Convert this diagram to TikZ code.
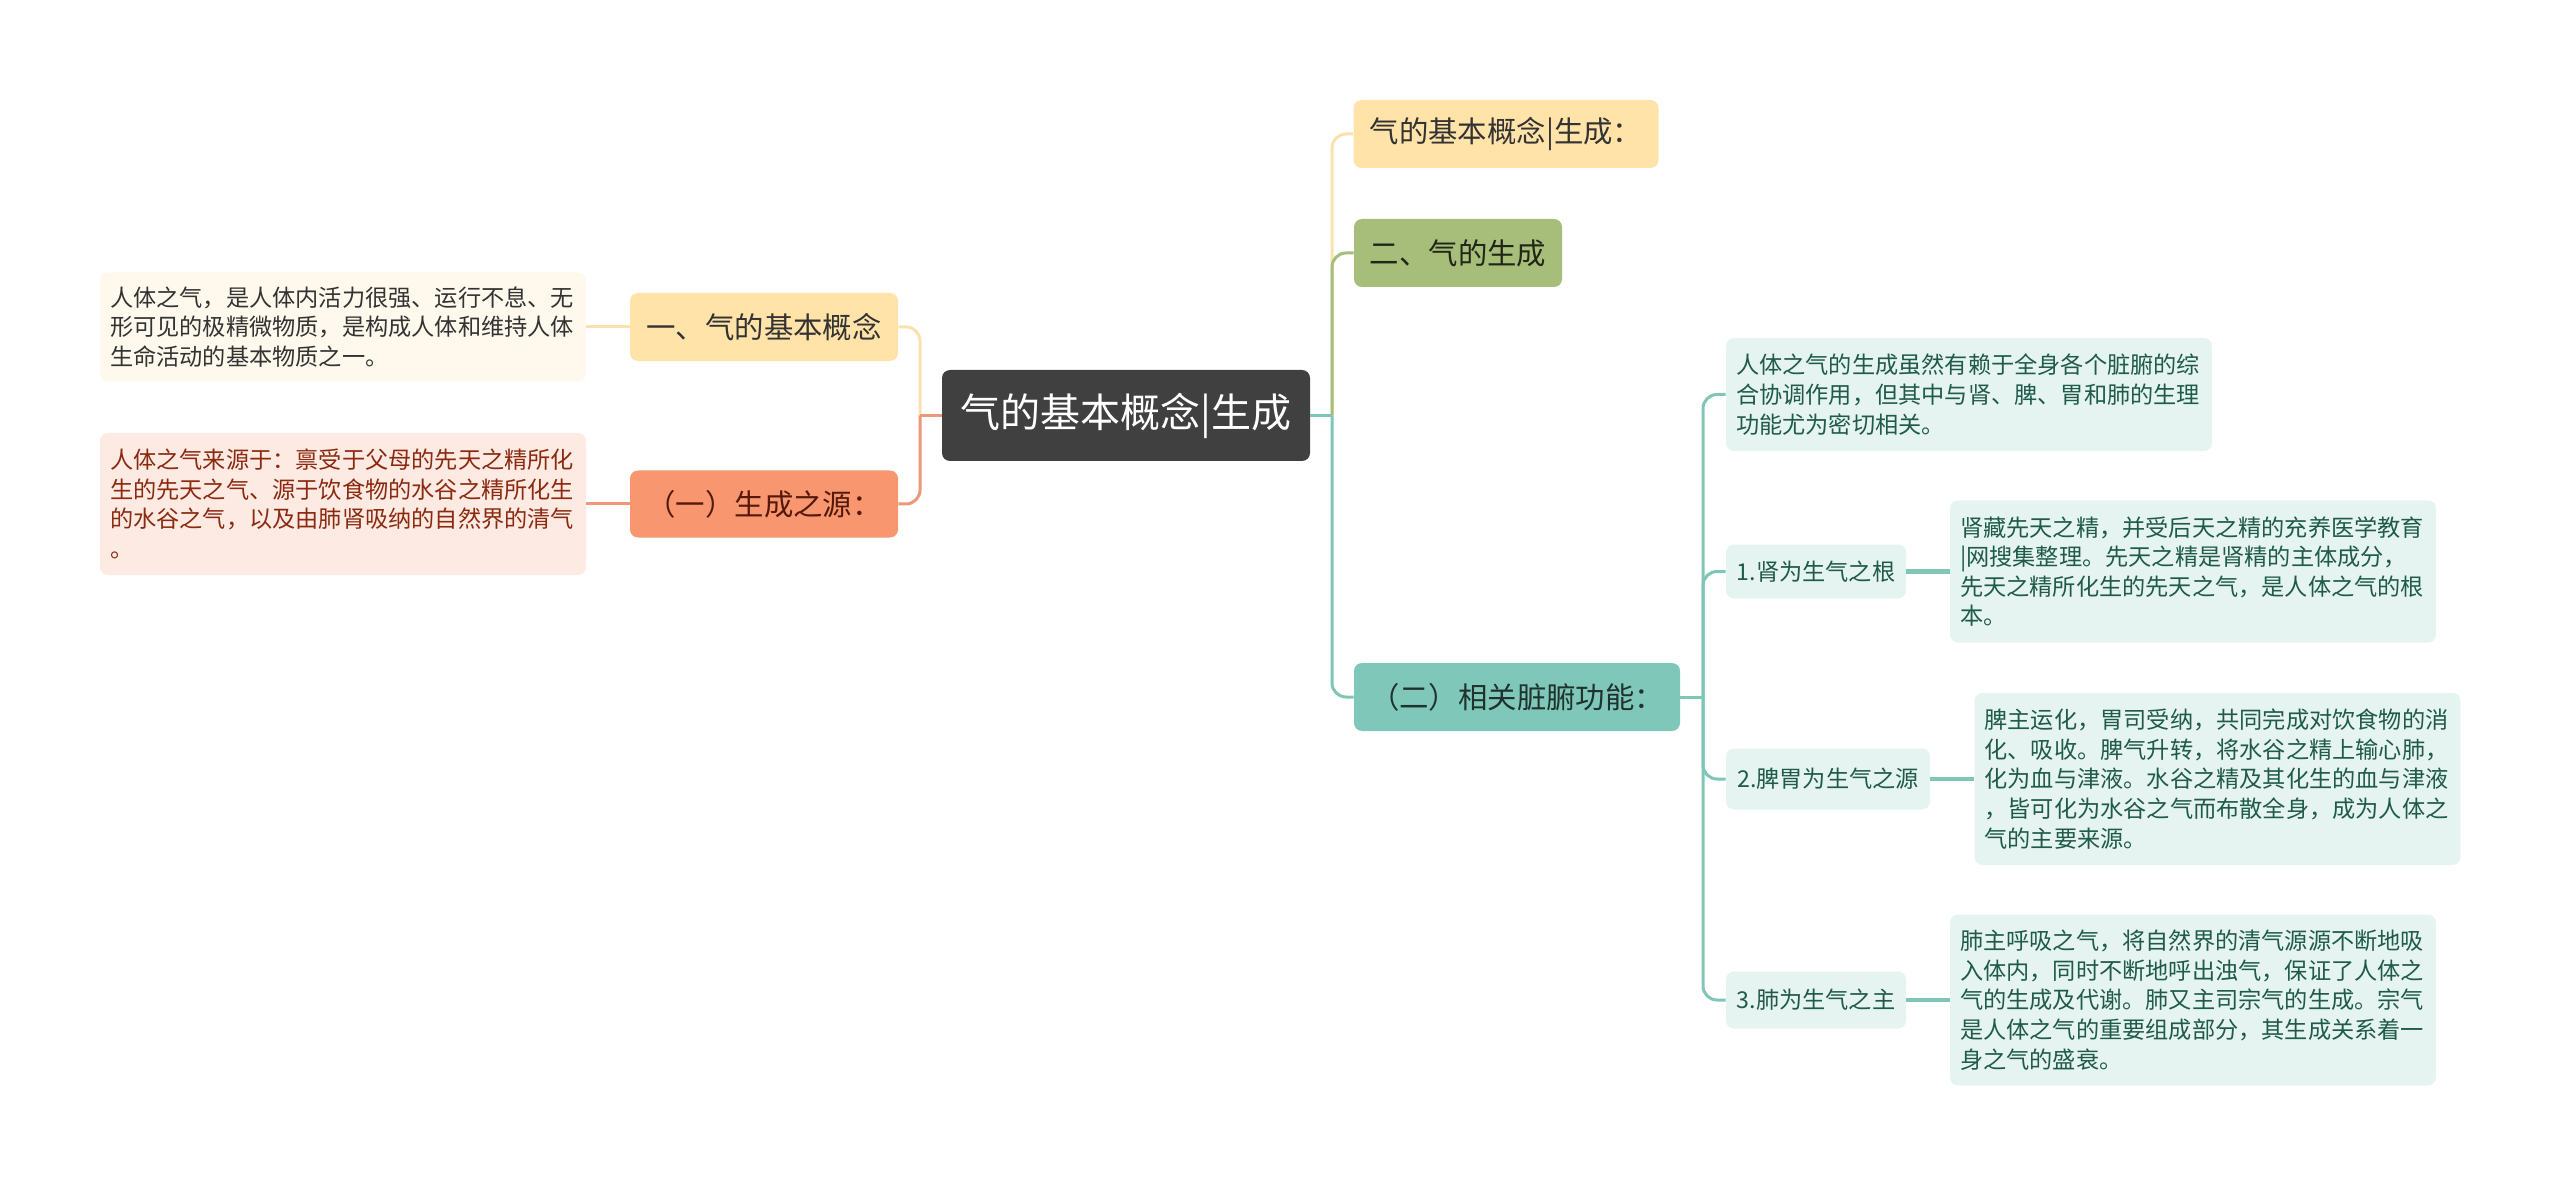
\documentclass[tikz,border=0pt]{standalone}
\usepackage{fontspec}
\setmainfont{Noto Sans CJK SC}
\definecolor{hubfill}{HTML}{404040}
\definecolor{sandfill}{HTML}{FFE3A9}
\definecolor{sandline}{HTML}{F9E2AE}
\definecolor{sandnote}{HTML}{FEF9EC}
\definecolor{coralfill}{HTML}{F8966F}
\definecolor{coralline}{HTML}{EF9779}
\definecolor{coralnote}{HTML}{FDEAE3}
\definecolor{coraltext}{HTML}{8C2A10}
\definecolor{olivefill}{HTML}{A6BE7A}
\definecolor{tealfill}{HTML}{7FC8B9}
\definecolor{tealline}{HTML}{80C6B7}
\definecolor{tealnote}{HTML}{E5F4F0}
\definecolor{tealtext}{HTML}{1F5A4A}
\begin{document}
\begin{tikzpicture}[x=0.5pt,y=-0.5pt,
    hub/.style={fill=hubfill,text=white,rounded corners=4pt,inner sep=0pt,
      minimum width=184pt,minimum height=45.5pt,font=\fontsize{20}{22}\selectfont},
    topic/.style={rounded corners=4pt,inner sep=0pt,minimum height=34pt,
      font=\fontsize{14.7}{17}\selectfont},
    sub/.style={fill=tealnote,text=tealtext,rounded corners=4pt,inner sep=0pt,
      font=\fontsize{11.6}{14}\selectfont},
    note/.style={rounded corners=4pt,align=left,text width=233pt,inner xsep=5pt,
      inner ysep=0pt,font=\fontsize{11.6}{14.8}\selectfont},
    link/.style={line width=1.5pt},
    elbow/.style={line width=1.5pt,rounded corners=7pt},
    leaflink/.style={line width=2.3pt,tealline}]
  \useasboundingbox (0,0) rectangle (2560,1187);

  \node[hub] (root) at (1126,415.5) {气的基本概念|生成};

  \node[topic,fill=sandfill,text=black!80,minimum width=134pt] (basic) at (764,327) {一、气的基本概念};
  \node[topic,fill=coralfill,text=coraltext!60!black,minimum width=134pt,minimum height=33.5pt] (source) at (764,504) {（一）生成之源：};
  \node[note,fill=sandnote,text=black!80,minimum height=54.5pt] (basicnote) at (343,327)
    {人体之气，是人体内活力很强、运行不息、无\\形可见的极精微物质，是构成人体和维持人体\\生命活动的基本物质之一。};
  \node[note,fill=coralnote,text=coraltext,minimum height=71pt] (sourcenote) at (343,504)
    {人体之气来源于：禀受于父母的先天之精所化\\生的先天之气、源于饮食物的水谷之精所化生\\的水谷之气，以及由肺肾吸纳的自然界的清气\\。};

  \node[topic,fill=sandfill,text=black!80,minimum width=152.5pt] (title) at (1506,134) {气的基本概念|生成：};
  \node[topic,fill=olivefill,text=black!80!olivefill,minimum width=104pt] (birth) at (1458,253) {二、气的生成};
  \node[topic,fill=tealfill,text=black!75!tealfill,minimum width=163pt] (organs) at (1517,697) {（二）相关脏腑功能：};

  \node[note,fill=tealnote,text=tealtext,minimum height=56.5pt] (overview) at (1969,394.5)
    {人体之气的生成虽然有赖于全身各个脏腑的综\\合协调作用，但其中与肾、脾、胃和肺的生理\\功能尤为密切相关。};
  \node[sub,minimum width=90pt,minimum height=27pt] (kidney) at (1816,571.5) {1.肾为生气之根};
  \node[sub,minimum width=102pt,minimum height=30.5pt] (spleen) at (1828,779) {2.脾胃为生气之源};
  \node[sub,minimum width=90pt,minimum height=28.5pt] (lung) at (1816,1000) {3.肺为生气之主};
  \node[note,fill=tealnote,text=tealtext,minimum height=71pt] (kidneynote) at (2193,571.5)
    {肾藏先天之精，并受后天之精的充养医学教育\\|网搜集整理。先天之精是肾精的主体成分，\\先天之精所化生的先天之气，是人体之气的根\\本。};
  \node[note,fill=tealnote,text=tealtext,minimum height=86pt] (spleennote) at (2217.5,779)
    {脾主运化，胃司受纳，共同完成对饮食物的消\\化、吸收。脾气升转，将水谷之精上输心肺，\\化为血与津液。水谷之精及其化生的血与津液\\，皆可化为水谷之气而布散全身，成为人体之\\气的主要来源。};
  \node[note,fill=tealnote,text=tealtext,minimum height=85.5pt] (lungnote) at (2193,1000)
    {肺主呼吸之气，将自然界的清气源源不断地吸\\入体内，同时不断地呼出浊气，保证了人体之\\气的生成及代谢。肺又主司宗气的生成。宗气\\是人体之气的重要组成部分，其生成关系着一\\身之气的盛衰。};

  \coordinate (lt) at (920,415.5);
  \coordinate (rt) at (1332,415.5);
  \coordinate (st) at (1703,697);

  \begin{scope}[-]
    \draw[elbow,sandline] (lt) |- (basic.east);
    \draw[link,coralline] (root.west) -- (lt);
    \draw[elbow,coralline] (lt) |- (source.east);
    \draw[link,sandline] (basic.west) -- (basicnote.east);
    \draw[link,coralline] (source.west) -- (sourcenote.east);
    \draw[elbow,sandline] (rt) |- (title.west);
    \draw[elbow,olivefill] (rt) |- (birth.west);
    \draw[link,tealline] (root.east) -- (rt);
    \draw[elbow,tealline] (rt) |- (organs.west);
    \draw[link,tealline] (organs.east) -- (st);
    \draw[elbow,tealline] (st) |- (overview.west);
    \draw[elbow,tealline] (st) |- (kidney.west);
    \draw[elbow,tealline] (st) |- (spleen.west);
    \draw[elbow,tealline] (st) |- (lung.west);
    \draw[leaflink] (kidney.east) -- (kidneynote.west);
    \draw[leaflink] (spleen.east) -- (spleennote.west);
    \draw[leaflink] (lung.east) -- (lungnote.west);
  \end{scope}
\end{tikzpicture}
\end{document}
